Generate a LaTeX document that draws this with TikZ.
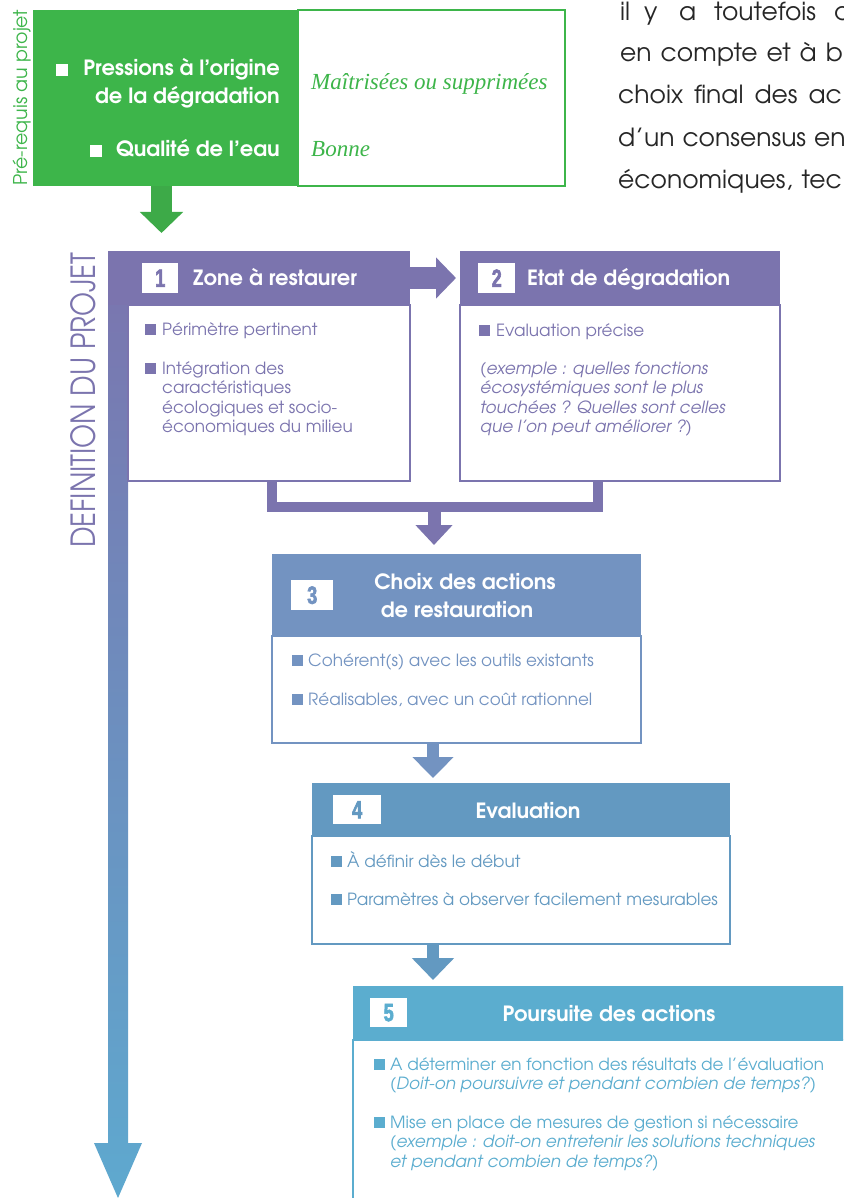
\documentclass[tikz,border=0pt]{standalone}
\usepackage{fontspec}
\usetikzlibrary{arrows.meta,calc}
\setmainfont{texgyreadventor}[Extension=.otf,UprightFont=*-regular,BoldFont=*-bold,ItalicFont=*-italic,BoldItalicFont=*-bolditalic]
\newfontfamily\serifit{Liberation Serif}
\newfontfamily\numfont{Liberation Sans}[FakeStretch=0.72, FakeBold=2.5]
\definecolor{cgreen}{HTML}{3DB54A}
\definecolor{cgarrow}{HTML}{3DAA48}
\definecolor{cpurple}{HTML}{7B74AE}
\definecolor{cblueA}{HTML}{7393C1}
\definecolor{cblueB}{HTML}{6399C1}
\definecolor{cblueC}{HTML}{5BADCF}
\definecolor{cbottom}{HTML}{5EA9CF}
\definecolor{ctext}{HTML}{262626}
\tikzset{
  blk/.style={anchor=north west, inner sep=0pt, outer sep=0pt, draw=none},
  bodybox/.style={anchor=north west, inner sep=0pt, outer sep=0pt, fill=white, line width=1.5pt},
  numbox/.style={anchor=north west, inner sep=0pt, fill=white, font=\numfont\bfseries\fontsize{25}{25}\selectfont},
  ttl/.style={inner sep=0pt, text=white, font=\bfseries\fontsize{21}{24}\selectfont},
  btxt/.style={anchor=base west, inner sep=0pt, font=\fontsize{16.8}{19}\selectfont},
  itxt/.style={anchor=base west, inner sep=0pt, font=\itshape\fontsize{16.8}{19}\selectfont},
  gtxt/.style={anchor=base east, inner sep=0pt, text=white, font=\bfseries\fontsize{21}{24}\selectfont},
  stxt/.style={anchor=base west, inner sep=0pt, text=cgreen, font=\serifit\itshape\fontsize{23}{26}\selectfont},
  ptxt/.style={anchor=base west, inner sep=0pt, text=ctext, font=\fontsize{25}{28}\selectfont},
}
\newcommand\bsq[3]{\fill[#1] (#2,#3) rectangle ++(11,-11);}
\newcommand\wsp[2]{{\spaceskip=#1pt\relax #2}}
\begin{document}
\begin{tikzpicture}[x=1pt,y=-1pt]
\useasboundingbox (0,0) rectangle (843,1198);
\clip (0,0) rectangle (843,1198);
\fill[white] (0,0) rectangle (843,1198);

% ---------- pre-requis ----------
\node[bodybox, draw=cgreen, minimum width=267pt, minimum height=176pt] (preR) at (298,10) {};
\node[blk, fill=cgreen, minimum width=265pt, minimum height=176pt] (preL) at (33,10) {};
\node[rotate=90, anchor=base west, inner sep=0pt] (prelab) at (27,186)
  {\resizebox{176pt}{!}{\color{cgreen}\fontsize{17}{20}\selectfont Pré-requis au projet}};
\fill[white] (56,76) rectangle ++(12,-12);
\fill[white] (90,157) rectangle ++(12,-12);
\node[gtxt] (g1) at (280,76) {Pressions à l’origine};
\node[gtxt] (g2) at (280,104) {de la dégradation};
\node[gtxt] (g3) at (280,157) {Qualité de l’eau};
\node[stxt] (s1) at (311,90) {Maîtrisées ou supprimées};
\node[stxt] (s2) at (311,157) {Bonne};
\coordinate (gtip) at (161.5,233);
\draw[cgarrow, line width=21pt, -{Triangle[length=21pt,width=42pt]}] (preL.south -| gtip) -- (gtip);

% ---------- paragraph top right ----------
\node[ptxt] (p1a) at (620,21) {il};
\node[ptxt] (p1b) at (644,21) {y};
\node[ptxt] (p1c) at (679,21) {a};
\node[ptxt] (p1d) at (714,21) {toutefois};
\node[ptxt] (p1e) at (834,21) {d};
\node[ptxt] (p2) at (620,62) {\wsp{9}{en compte et à b}};
\node[ptxt] (p3) at (618,104) {\wsp{11}{choix final des ac}};
\node[ptxt] (p4) at (618,147) {\wsp{8}{d’un consensus en}};
\node[ptxt] (p5) at (618,189) {\wsp{9}{économiques, tec}};

% ---------- main band ----------
\shade[top color=cpurple, bottom color=cbottom]
  (108,251) -- (128,251) -- (128,1143) -- (142,1143) -- (118,1198) -- (94,1143) -- (108,1143) -- cycle;
\node[rotate=90, anchor=base west, inner sep=0pt] (deflab) at (95,548)
  {\resizebox{295pt}{25pt}{\color{cpurple}\fontsize{30}{30}\selectfont DEFINITION DU PROJET}};

% ---------- box 1 ----------
\node[blk, fill=cpurple, minimum width=302pt, minimum height=54pt] (h1) at (108,251) {};
\node[bodybox, draw=cpurple, minimum width=282pt, minimum height=176pt] (b1) at (128,305) {};
\node[numbox, text=cpurple, minimum width=36pt, minimum height=30pt] (n1) at (142,263) {1};
\node[ttl, anchor=base west] (t1) at (193,285) {Zone à restaurer};
\bsq{cpurple}{145}{335}
\node[btxt, text=cpurple] (l11) at (162,335) {Périmètre pertinent};
\bsq{cpurple}{145}{374}
\node[btxt, text=cpurple] (l12) at (162,374) {Intégration des};
\node[btxt, text=cpurple] (l13) at (162,393.5) {caractéristiques};
\node[btxt, text=cpurple] (l14) at (162,413) {écologiques et socio-};
\node[btxt, text=cpurple] (l15) at (162,432.5) {économiques du milieu};

% ---------- box 2 ----------
\node[blk, fill=cpurple, minimum width=320pt, minimum height=54pt] (h2) at (460,251) {};
\node[bodybox, draw=cpurple, minimum width=320pt, minimum height=176pt] (b2) at (460,305) {};
\node[numbox, text=cpurple, minimum width=37pt, minimum height=30pt] (n2) at (478,263) {2};
\node[ttl, anchor=base west] (t2) at (527,285) {Etat de dégradation};
\bsq{cpurple}{479}{336}
\node[btxt, text=cpurple] (l21) at (496,336) {Evaluation précise};
\node[itxt, text=cpurple] (l22) at (480,374) {(exemple : quelles fonctions};
\node[itxt, text=cpurple] (l23) at (480,393.5) {écosystémiques sont le plus};
\node[itxt, text=cpurple] (l24) at (480,413) {touchées ? Quelles sont celles};
\node[itxt, text=cpurple] (l25) at (480,432.5) {que l’on peut améliorer ?)};

% arrow 1 -> 2
\coordinate (a12) at (456,278);
\draw[cpurple, line width=22pt, -{Triangle[length=20pt,width=40pt]}] (h1.east) -- (a12);

% join 1,2 -> 3
\coordinate (c1) at (272,506.5);
\coordinate (c2) at (597.5,506.5);
\draw[cpurple, line width=10pt, line join=miter] (b1.south -| c1) -- (c1) -- (c2) -- (b2.south -| c2);
\coordinate (a3) at (434,545);
\draw[cpurple, line width=13pt, -{Triangle[length=20pt,width=36pt]}] (434,511) -- (a3);

% ---------- box 3 ----------
\node[blk, fill=cblueA, minimum width=369pt, minimum height=82pt] (h3) at (272,554) {};
\node[bodybox, draw=cblueA, minimum width=369pt, minimum height=107pt] (b3) at (272,636) {};
\node[numbox, text=cblueA, minimum width=42pt, minimum height=30pt] (n3) at (291,580) {3};
\node[ttl, anchor=base] (t3a) at (465,589) {Choix des actions};
\node[ttl, anchor=base] (t3b) at (457,617) {de restauration};
\bsq{cblueA}{292}{666}
\node[btxt, text=cblueA] (l31) at (308,666) {Cohérent(s) avec les outils existants};
\bsq{cblueA}{292}{705}
\node[btxt, text=cblueA] (l32) at (308,705) {Réalisables, avec un coût rationnel};

\coordinate (a4) at (433,778);
\draw[cblueA, line width=12pt, -{Triangle[length=21pt,width=40pt]}] (b3.south -| a4) -- (a4);

% ---------- box 4 ----------
\node[blk, fill=cblueB, minimum width=418pt, minimum height=53pt] (h4) at (312,783) {};
\node[bodybox, draw=cblueB, minimum width=418pt, minimum height=108pt] (b4) at (312,836) {};
\node[numbox, text=cblueB, minimum width=48pt, minimum height=29pt] (n4) at (333,795) {4};
\node[ttl, anchor=base] (t4) at (528,818) {Evaluation};
\bsq{cblueB}{331}{867}
\node[btxt, text=cblueB] (l41) at (347,867) {À définir dès le début};
\bsq{cblueB}{331}{905}
\node[btxt, text=cblueB] (l42) at (347,905) {Paramètres à observer facilement mesurables};

\coordinate (a5) at (433,980);
\draw[cblueB, line width=12pt, -{Triangle[length=22pt,width=41pt]}] (b4.south -| a5) -- (a5);

% ---------- box 5 ----------
\node[blk, fill=cblueC, minimum width=510pt, minimum height=54pt] (h5) at (353,986) {};
\node[bodybox, draw=cblueC, minimum width=510pt, minimum height=180pt] (b5) at (353,1040) {};
\node[numbox, text=cblueC, minimum width=37pt, minimum height=29pt] (n5) at (370,998) {5};
\node[ttl, anchor=base] (t5) at (609,1021) {Poursuite des actions};
\bsq{cblueC}{374}{1070}
\node[btxt, text=cblueC] (l51) at (390,1070) {A déterminer en fonction des résultats de l’évaluation};
\node[itxt, text=cblueC] (l52) at (390,1089.5) {(Doit-on poursuivre et pendant combien de temps?)};
\bsq{cblueC}{374}{1128}
\node[btxt, text=cblueC] (l53) at (390,1128) {Mise en place de mesures de gestion si nécessaire};
\node[itxt, text=cblueC] (l54) at (390,1147.5) {(exemple : doit-on entretenir les solutions techniques};
\node[itxt, text=cblueC] (l55) at (390,1167) {et pendant combien de temps?)};
\end{tikzpicture}
\end{document}
